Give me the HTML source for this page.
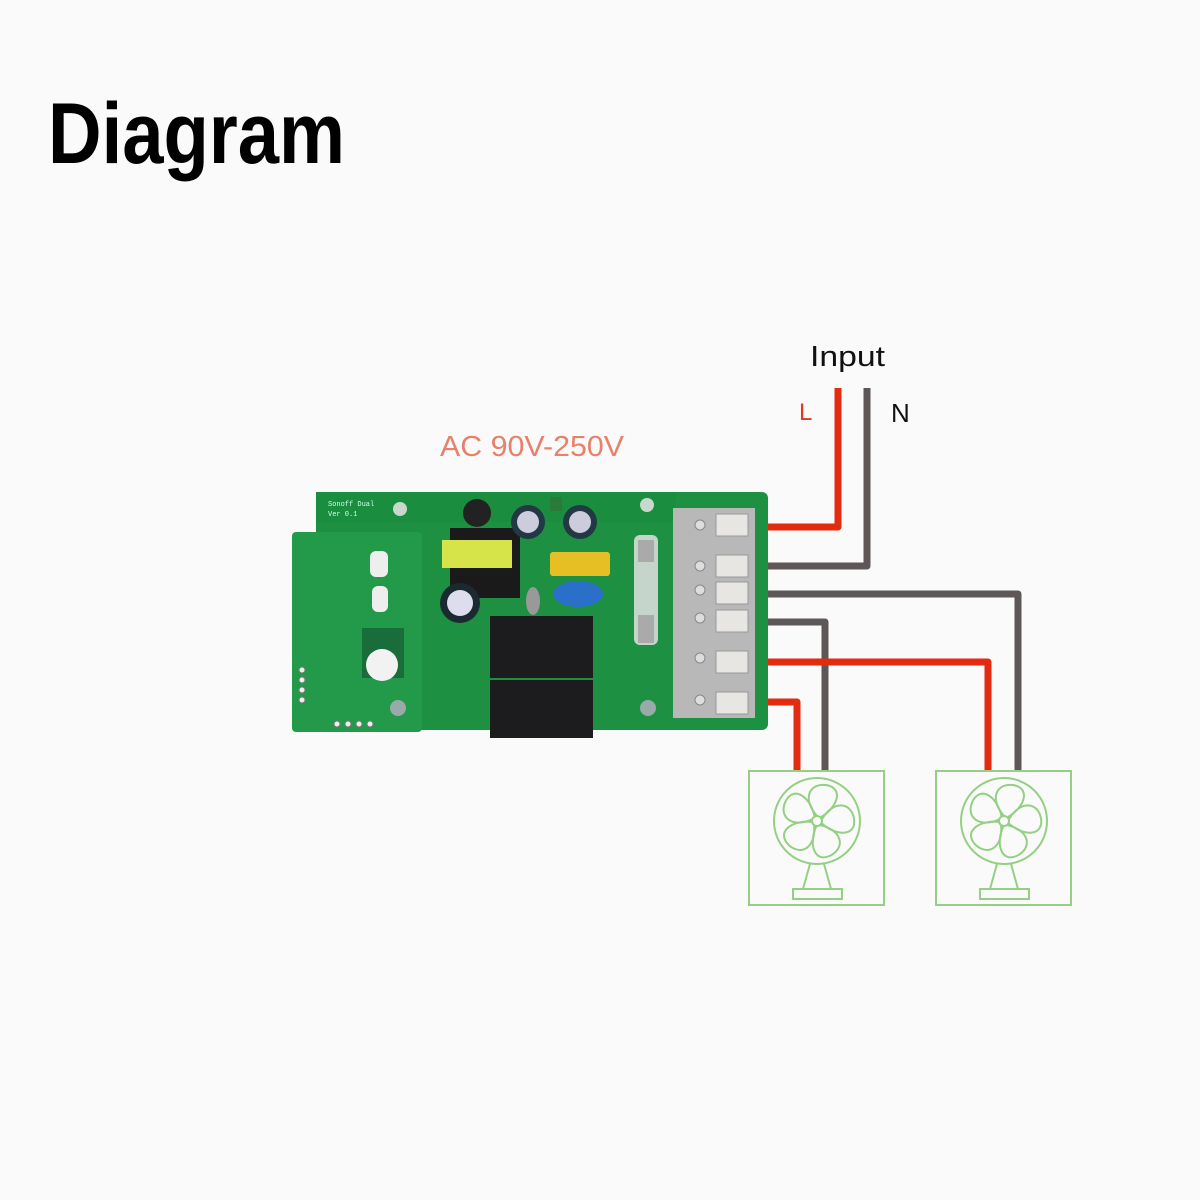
<!DOCTYPE html>
<html><head><meta charset="utf-8"><style>
html,body{margin:0;padding:0;background:#fbfafa;}
svg{display:block}
</style></head><body>
<svg width="1200" height="1200" viewBox="0 0 1200 1200" xmlns="http://www.w3.org/2000/svg">
<rect width="1200" height="1200" fill="#fbfafa"/>
<text x="48" y="163" font-family="Liberation Sans, Arial, sans-serif" font-weight="bold" font-size="86" textLength="297" lengthAdjust="spacingAndGlyphs" fill="#000">Diagram</text>
<text x="440" y="456" font-family="Liberation Sans, sans-serif" font-size="29" fill="#e8806a" textLength="184" lengthAdjust="spacingAndGlyphs">AC 90V-250V</text>
<text x="810" y="366" font-family="Liberation Sans, sans-serif" font-size="29" fill="#111" textLength="75" lengthAdjust="spacingAndGlyphs">Input</text>
<text x="799" y="420" font-family="Liberation Sans, sans-serif" font-size="24" fill="#e03a1a">L</text>
<text x="891" y="422" font-family="Liberation Sans, sans-serif" font-size="26" fill="#111">N</text>

<!-- wires -->
<g fill="none" stroke-linejoin="round" stroke-width="7">
 <path d="M748 527 H838 V388" stroke="#e32b10"/>
 <path d="M748 566 H867 V388" stroke="#5e5757"/>
 <path d="M748 594 H1018 V772" stroke="#5e5757"/>
 <path d="M748 622 H825 V772" stroke="#5e5757"/>
 <path d="M748 662 H988 V772" stroke="#e32b10"/>
 <path d="M748 702 H797 V772" stroke="#e32b10"/>
</g>

<!-- board -->
<rect x="316" y="492" width="452" height="238" rx="6" fill="#1d9141"/>
<rect x="292" y="532" width="130" height="200" rx="4" fill="#239a4a"/>
<rect x="316" y="492" width="360" height="30" fill="#1a8d3e"/>
<text x="328" y="506" font-family="Liberation Mono, monospace" font-size="7" fill="#cfe">Sonoff Dual</text>
<text x="328" y="516" font-family="Liberation Mono, monospace" font-size="7" fill="#cfe">Ver 0.1</text>
<circle cx="400" cy="509" r="7" fill="#c8d8cc"/>
<circle cx="647" cy="505" r="7" fill="#c8d8cc"/>
<circle cx="398" cy="708" r="8" fill="#9aa"/>
<circle cx="648" cy="708" r="8" fill="#9aa"/>
<rect x="450" y="528" width="70" height="70" fill="#1a1a1a"/>
<rect x="442" y="540" width="70" height="28" fill="#d6e44a"/>
<circle cx="477" cy="513" r="14" fill="#222"/>
<circle cx="528" cy="522" r="17" fill="#223844"/><circle cx="528" cy="522" r="11" fill="#ccd"/>
<circle cx="580" cy="522" r="17" fill="#223844"/><circle cx="580" cy="522" r="11" fill="#ccd"/>
<circle cx="460" cy="603" r="20" fill="#1a2a30"/><circle cx="460" cy="603" r="13" fill="#dde"/>
<rect x="550" y="497" width="12" height="14" fill="#2a7a3a"/>
<rect x="550" y="552" width="60" height="24" rx="3" fill="#e6bf24"/>
<ellipse cx="578" cy="594" rx="25" ry="13" fill="#2a6fc8"/>
<ellipse cx="533" cy="601" rx="7" ry="14" fill="#999"/>
<rect x="634" y="535" width="24" height="110" rx="6" fill="#d8dddb" opacity="0.9"/>
<rect x="638" y="540" width="16" height="22" fill="#aaa"/>
<rect x="638" y="615" width="16" height="28" fill="#aaa"/>
<rect x="370" y="551" width="18" height="26" rx="6" fill="#eee"/>
<rect x="372" y="586" width="16" height="26" rx="6" fill="#eee"/>
<rect x="362" y="628" width="42" height="50" fill="#186d3a"/>
<circle cx="382" cy="665" r="16" fill="#f2f2f2"/>
<g fill="#eee" stroke="#777" stroke-width="1"><circle cx="302" cy="670" r="3"/><circle cx="302" cy="680" r="3"/><circle cx="302" cy="690" r="3"/><circle cx="302" cy="700" r="3"/>
<circle cx="337" cy="724" r="3"/><circle cx="348" cy="724" r="3"/><circle cx="359" cy="724" r="3"/><circle cx="370" cy="724" r="3"/></g>
<rect x="490" y="616" width="103" height="62" fill="#1c1c1e"/>
<rect x="490" y="680" width="103" height="58" fill="#1c1c1e"/>
<rect x="673" y="508" width="82" height="210" fill="#b8b8b8"/>
<g fill="#e8e6e2" stroke="#999" stroke-width="1">
 <rect x="716" y="514" width="32" height="22"/><rect x="716" y="555" width="32" height="22"/>
 <rect x="716" y="582" width="32" height="22"/><rect x="716" y="610" width="32" height="22"/>
 <rect x="716" y="651" width="32" height="22"/><rect x="716" y="692" width="32" height="22"/>
</g>
<g fill="#ddd" stroke="#888"><circle cx="700" cy="525" r="5"/><circle cx="700" cy="566" r="5"/><circle cx="700" cy="590" r="5"/><circle cx="700" cy="618" r="5"/><circle cx="700" cy="658" r="5"/><circle cx="700" cy="700" r="5"/></g>

<!-- fan boxes -->
<g fill="none" stroke="#93d083" stroke-width="2">
 <g id="fan">
  <rect x="749" y="771" width="135" height="134"/>
  <circle cx="817" cy="821" r="43"/>
  <circle cx="817" cy="821" r="5"/>
  <g transform="translate(817 821)">
   <path d="M0 -5 C-15 -22 -8 -38 9 -36 C27 -33 21 -14 4 -4" id="b"/>
   <use href="#b" transform="rotate(72)"/><use href="#b" transform="rotate(144)"/><use href="#b" transform="rotate(216)"/><use href="#b" transform="rotate(288)"/>
  </g>
  <path d="M810 864 L803 889 M824 864 L831 889"/>
  <rect x="793" y="889" width="49" height="10"/>
 </g>
 <use href="#fan" transform="translate(187 0)"/>
</g>
</svg>
</body></html>
